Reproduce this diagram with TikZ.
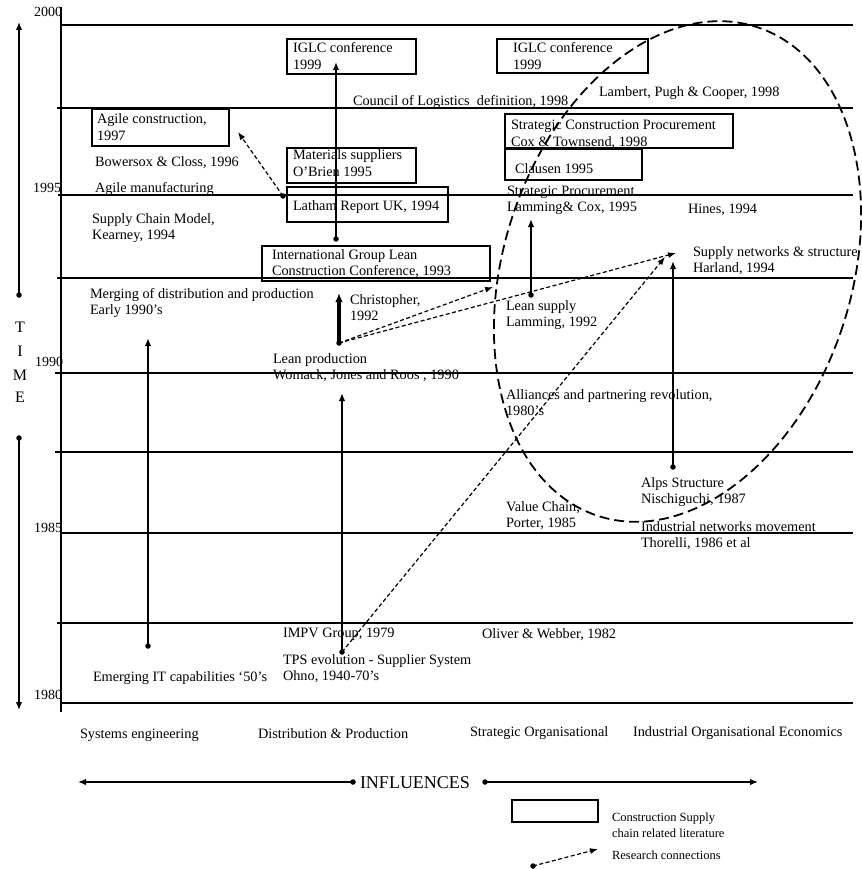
\documentclass[tikz,border=0pt]{standalone}
\usepackage{fontspec}
\setmainfont{Liberation Serif}
\usetikzlibrary{arrows.meta}
\newcommand\twoline[2]{\begin{tabular}[t]{@{}l@{}}#1\\#2\end{tabular}}
\begin{document}
\begin{tikzpicture}[x=1pt,y=-1pt,
  every node/.style={inner sep=0pt, outer sep=0pt},
  txt/.style={anchor=base west, font=\fontsize{14.3}{16.5}\selectfont},
  small/.style={anchor=base west, font=\fontsize{12.5}{16.5}\selectfont},
  yr/.style={anchor=base east, font=\fontsize{14}{16}\selectfont},
  hline/.style={line width=1.8pt},
  lit/.style={draw, line width=1.6pt, rectangle},
  dotn/.style={circle, fill, minimum size=5.5pt},
  arr/.style={line width=1.8pt, -{Latex[length=8pt,width=6.5pt]}},
  thickarr/.style={line width=3.2pt, -{Latex[length=9pt,width=7.5pt]}},
  conn/.style={line width=1.2pt, dash pattern=on 4pt off 2.5pt, -{Latex[length=8pt,width=6pt]}},
  oval/.style={line width=1.8pt, dash pattern=on 10pt off 5pt},
]
\fill[white] (0,0) rectangle (861,869);
\useasboundingbox (0,0) rectangle (861,869);

% year grid
\draw[line width=1.4pt] (61,7) -- (61,712);
\draw[hline] (61,25) -- (853,25);
\draw[hline] (57,108) -- (853,108);
\draw[hline] (58,195) -- (853,195);
\draw[hline] (57,278) -- (853,278);
\draw[hline] (55,373) -- (853,373);
\draw[hline] (55,452) -- (853,452);
\draw[hline] (61,533) -- (853,533);
\draw[hline] (57,623) -- (853,623);
\draw[hline] (61,703) -- (853,703);

\node[yr] (y2000) at (62,17) {2000};
\node[yr] (y1995) at (61,193) {1995};
\node[yr] (y1990) at (63,366) {1990};
\node[yr] (y1985) at (62,532) {1985};
\node[yr] (y1980) at (62,699) {1980};

% time axis
\node[dotn] (tdot1) at (19,295) {};
\coordinate (ttop) at (19,22);
\node[dotn] (tdot2) at (19,438) {};
\coordinate (tbot) at (19,710);
\draw[line width=1.4pt, -{Latex[length=8pt,width=6.5pt]}] (tdot1.center) -- (ttop);
\draw[line width=1.4pt, -{Latex[length=8pt,width=6.5pt]}] (tdot2.center) -- (tbot);
\node[anchor=base, font=\fontsize{16}{18}\selectfont] (tT) at (20,332) {T};
\node[anchor=base, font=\fontsize{16}{18}\selectfont] (tI) at (20,356) {I};
\node[anchor=base, font=\fontsize{16}{18}\selectfont] (tM) at (20,380) {M};
\node[anchor=base, font=\fontsize{16}{18}\selectfont] (tE) at (20,402) {E};

% ellipse
\draw[oval, rotate around={-18:(677.5,271.5)}] (677.5,271.5) ellipse [x radius=174, y radius=257];

% boxes
\node[lit, minimum width=137pt, minimum height=37pt] (agilebox) at (160.5,127.5) {};
\node[lit, minimum width=129pt, minimum height=35pt] (iglc1box) at (351.5,56.5) {};
\node[lit, minimum width=129pt, minimum height=35pt] (matbox) at (351.5,165.5) {};
\node[lit, minimum width=161pt, minimum height=35pt] (lathambox) at (367.5,204.5) {};
\node[lit, minimum width=228pt, minimum height=35pt] (intlbox) at (376,263.5) {};
\node[lit, minimum width=151pt, minimum height=34pt] (iglc2box) at (572.5,56) {};
\node[lit, minimum width=228pt, minimum height=34pt] (scpbox) at (619,131) {};
\node[lit, minimum width=137pt, minimum height=31pt] (clausenbox) at (573.5,164.5) {};

% left column texts
\node[txt] (agile) at (97,124) {\twoline{Agile construction,}{1997}};
\node[txt] (bowersox) at (95,167) {Bowersox \& Closs, 1996};
\node[txt] (agilem) at (95,192) {Agile manufacturing};
\node[txt] (scm) at (92,223) {\twoline{Supply Chain Model,}{Kearney, 1994}};
\node[txt] (merging) at (90,298) {\twoline{Merging of distribution and production}{Early 1990’s}};
\node[txt] (emerging) at (93,681) {Emerging IT capabilities ‘50’s};

% middle texts
\node[txt] (iglc1) at (293,53) {\twoline{IGLC conference}{1999}};
\node[txt] (council) at (353,106) {Council of Logistics\ \ definition, 1998};
\node[txt] (mat) at (293,160) {\twoline{Materials suppliers}{O’Brien 1995}};
\node[txt] (latham) at (293,210) {Latham Report UK, 1994};
\node[txt] (intl) at (272,259) {\twoline{International Group Lean}{Construction Conference, 1993}};
\node[txt] (christ) at (350,304) {\twoline{Christopher,}{1992}};
\node[txt] (leanprod) at (273,363) {\twoline{Lean production}{Womack, Jones and Roos , 1990}};
\node[txt] (impv) at (283,637) {IMPV Group, 1979};
\node[txt] (tps) at (283,664) {\twoline{TPS evolution - Supplier System}{Ohno, 1940-70’s}};

% right texts
\node[txt] (iglc2) at (513,53) {\twoline{IGLC conference}{1999}};
\node[txt] (lambert) at (599,97) {Lambert, Pugh \& Cooper, 1998};
\node[txt] (scp) at (511,130) {\twoline{Strategic Construction Procurement}{Cox \& Townsend, 1998}};
\node[txt] (clausen) at (515,174) {Clausen 1995};
\node[txt] (stratproc) at (507,195) {\twoline{Strategic Procurement}{Lamming\& Cox, 1995}};
\node[txt] (hines) at (688,213) {Hines, 1994};
\node[txt] (supnet) at (693,256) {\twoline{Supply networks \& structure}{Harland, 1994}};
\node[txt] (leansup) at (506,310) {\twoline{Lean supply}{Lamming, 1992}};
\node[txt] (alliances) at (506,399) {\twoline{Alliances and partnering revolution,}{1980’s}};
\node[txt] (alps) at (641,487) {\twoline{Alps Structure}{Nischiguchi, 1987}};
\node[txt] (value) at (506,511) {\twoline{Value Chain,}{Porter, 1985}};
\node[txt] (indnet) at (641,531) {\twoline{Industrial networks movement}{Thorelli, 1986 et al}};
\node[txt] (oliver) at (482,638) {Oliver \& Webber, 1982};

% solid arrows
\node[dotn] (dsys) at (148,646) {};
\coordinate (tsys) at (148,338);
\draw[arr] (dsys.center) -- (tsys);
\node[dotn] (dtps) at (342,652) {};
\coordinate (tdist) at (342,393);
\draw[arr] (dtps.center) -- (tdist);
\node[dotn] (dlean) at (339,343) {};
\coordinate (tchris) at (339,293);
\draw[thickarr] (dlean.center) -- (tchris);
\node[dotn] (dlatham) at (336,239) {};
\coordinate (tiglc) at (336,62);
\draw[arr] (dlatham.center) -- (tiglc);
\node[dotn] (dleansup) at (531,295) {};
\coordinate (tstrat) at (531,219);
\draw[arr] (dleansup.center) -- (tstrat);
\node[dotn] (dalps) at (673,467) {};
\coordinate (tharland) at (673,261);
\draw[arr] (dalps.center) -- (tharland);

% research connections
\node[dotn] (dagile) at (283,196) {};
\coordinate (tagile) at (238,132);
\draw[conn] (dagile.center) -- (tagile);
\coordinate (tleansup) at (493,287);
\draw[conn] (dlean.center) -- (tleansup);
\coordinate (tsupnet) at (676,253);
\draw[conn] (dlean.center) -- (tsupnet);
\coordinate (tsupnet2) at (665,257);
\draw[conn] (dtps.center) -- (tsupnet2);

% bottom categories
\node[txt] (sys) at (80,738) {Systems engineering};
\node[txt] (dist) at (258,738) {Distribution \& Production};
\node[txt] (strat) at (470,736) {Strategic Organisational};
\node[txt] (ind) at (633,736) {Industrial Organisational Economics};

% influences
\node[anchor=base, font=\fontsize{18}{20}\selectfont] (infl) at (415,788) {INFLUENCES};
\node[dotn] (dinfl1) at (353,782) {};
\node[dotn] (dinfl2) at (485,782) {};
\coordinate (tinfl1) at (78,782);
\coordinate (tinfl2) at (758,782);
\draw[line width=1.4pt, -{Latex[length=8pt,width=6.5pt]}] (dinfl1.center) -- (tinfl1);
\draw[line width=1.4pt, -{Latex[length=8pt,width=6.5pt]}] (dinfl2.center) -- (tinfl2);

% legend
\node[lit, minimum width=86pt, minimum height=22pt] (legbox) at (555,811) {};
\node[small] (legtxt) at (612,821) {\twoline{Construction Supply}{chain related literature}};
\node[dotn] (dleg) at (533,866) {};
\coordinate (tleg) at (598,849);
\draw[conn] (dleg.center) -- (tleg);
\node[small] (legtxt2) at (612,859) {Research connections};
\end{tikzpicture}
\end{document}
